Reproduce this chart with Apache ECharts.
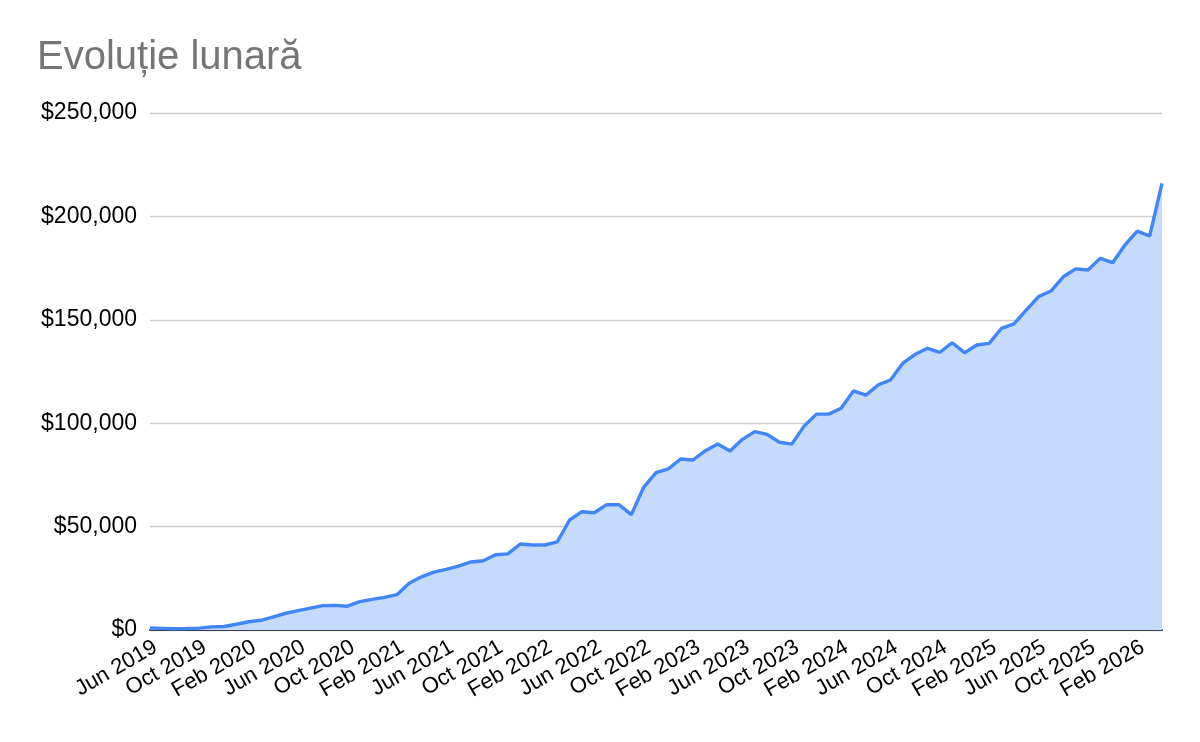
<!DOCTYPE html>
<html>
<head>
<meta charset="utf-8">
<script src="https://cdn.jsdelivr.net/npm/echarts@6/dist/echarts.min.js"></script>
<style>
html,body{margin:0;padding:0;background:#fff;}
#chart{width:1200px;height:742px;}
</style>
</head>
<body>
<div id="chart"></div>
<script>
const titleText = 'Evoluție lunară';
const categories = [
  'Jun 2019','Jul 2019','Aug 2019','Sep 2019','Oct 2019','Nov 2019','Dec 2019',
  'Jan 2020','Feb 2020','Mar 2020','Apr 2020','May 2020','Jun 2020','Jul 2020','Aug 2020','Sep 2020','Oct 2020','Nov 2020','Dec 2020',
  'Jan 2021','Feb 2021','Mar 2021','Apr 2021','May 2021','Jun 2021','Jul 2021','Aug 2021','Sep 2021','Oct 2021','Nov 2021','Dec 2021',
  'Jan 2022','Feb 2022','Mar 2022','Apr 2022','May 2022','Jun 2022','Jul 2022','Aug 2022','Sep 2022','Oct 2022','Nov 2022','Dec 2022',
  'Jan 2023','Feb 2023','Mar 2023','Apr 2023','May 2023','Jun 2023','Jul 2023','Aug 2023','Sep 2023','Oct 2023','Nov 2023','Dec 2023',
  'Jan 2024','Feb 2024','Mar 2024','Apr 2024','May 2024','Jun 2024','Jul 2024','Aug 2024','Sep 2024','Oct 2024','Nov 2024','Dec 2024',
  'Jan 2025','Feb 2025','Mar 2025','Apr 2025','May 2025','Jun 2025','Jul 2025','Aug 2025','Sep 2025','Oct 2025','Nov 2025','Dec 2025',
  'Jan 2026','Feb 2026','Mar 2026','Apr 2026'
];
const values = [
  1000, 800, 600, 700, 900, 1500, 1700,
  2800, 4000, 4700, 6400, 8100, 9400, 10600, 11800, 11900, 11500, 13700, 14800,
  15800, 17100, 22600, 25700, 28000, 29300, 30900, 32900, 33500, 36400, 36800, 41600,
  41100, 41100, 42600, 53200, 57200, 56700, 60600, 60600, 55800, 69000, 76100, 77900,
  82700, 82200, 86700, 89900, 86600, 92200, 95900, 94600, 90800, 89900, 98600, 104400,
  104400, 107200, 115600, 113600, 118500, 120900, 129000, 133300, 136200, 134300, 138900, 134100,
  137800, 138600, 145900, 148000, 154700, 161200, 163900, 170800, 174600, 174100, 179700, 177600,
  186200, 192900, 190500, 216000
];
const yMin = 0, yMax = 250000, yStep = 50000;

const chart = echarts.init(document.getElementById('chart'));
const font = 'Arial, "Liberation Sans", sans-serif';
chart.setOption({
  animation: false,
  backgroundColor: '#ffffff',
  title: {
    text: titleText,
    left: 32, top: 33,
    textStyle: {fontFamily: font, fontSize: 40, fontWeight: 'normal', color: '#757575'}
  },
  grid: {left: 150, right: 38, top: 113, bottom: 112, containLabel: false},
  xAxis: {
    type: 'category',
    data: categories,
    boundaryGap: false,
    axisLine: {show: true, lineStyle: {color: '#333d4d', width: 2}},
    axisTick: {show: false},
    splitLine: {show: false},
    axisLabel: {
      interval: 3, rotate: 30, margin: 6, verticalAlign: 'top',
      fontFamily: font, fontSize: 22, color: '#000'
    }
  },
  yAxis: {
    type: 'value',
    min: yMin, max: yMax, interval: yStep,
    axisLine: {show: false},
    axisTick: {show: false},
    splitLine: {lineStyle: {color: '#cccccc', width: 1.3}},
    axisLabel: {
      margin: 13, fontFamily: font, fontSize: 23, color: '#000',
      formatter: v => '$' + v.toLocaleString('en-US')
    }
  },
  series: [{
    type: 'line',
    data: values,
    symbol: 'none',
    lineStyle: {color: '#4285f4', width: 3.4},
    areaStyle: {color: '#c6dafc', opacity: 1},
    z: 3
  }]
});
</script>
</body>
</html>
